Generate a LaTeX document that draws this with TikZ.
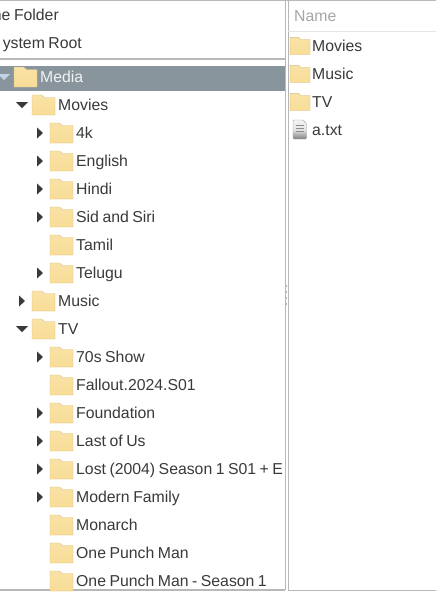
\documentclass[tikz,border=0pt]{standalone}
\usepackage{fontspec}
\setmainfont[WordSpace=0.8]{Liberation Sans}
\definecolor{rowtext}{HTML}{3A3A3A}
\definecolor{panelline}{HTML}{B8B8B8}
\definecolor{rowhigh}{HTML}{89959D}
\definecolor{folderfill}{HTML}{F8DD96}
\definecolor{folderedge}{HTML}{D9BF85}
\definecolor{arrowpale}{HTML}{BFD3E6}
\tikzset{%
    rowlbl/.style={anchor=west,inner sep=0pt,yshift=-1pt,font=\fontsize{15.8}{16}\selectfont,text=rowtext,text height=11.5pt,text depth=3pt},
    pics/folder/.style={code={
        \draw[folderedge,top color=folderfill!85!white,bottom color=folderfill]
            (-11.5,-10) -- (-2,-10) -- (1,-7.5) -- (11.5,-7.5) -- (11.5,10) -- (-11.5,10) -- cycle;
    }},
    pics/shut/.style={code={
        \fill[#1] (-3,-5.5) -- (3,0) -- (-3,5.5) -- cycle;
    }},
    pics/open/.style={code={
        \fill[#1] (-6,-3) -- (6,-3) -- (0,3) -- cycle;
    }}
}
\begin{document}
\begin{tikzpicture}[x=1pt,y=-1pt]
            \useasboundingbox (0,0) rectangle (436,592);
            \fill[white] (0,0) rectangle (436,592);

            % draw panels, highlight
            \fill[rowhigh] (0,65.5) rectangle (285,91);
            \draw[panelline,line width=1.5pt] (0,0.5) -- (436,0.5);
            \draw[panelline,line width=1.5pt] (0,59) -- (285,59);
            \draw[panelline,line width=1.5pt] (285.5,0) -- (285.5,590);
            \draw[panelline,line width=1pt] (288,0) -- (288,590);
            \draw[panelline,line width=1.5pt] (0,590) -- (285,590);
            \draw[panelline,line width=1pt] (288,590) -- (436,590);
            \draw[black!10] (288,31.5) -- (436,31.5);

            % grip between the panels
            \fill[black!30] (286.2,285) rectangle (287.3,287);
            \fill[black!30] (286.2,291) rectangle (287.3,293);
            \fill[black!30] (286.2,297) rectangle (287.3,299);
            \fill[black!30] (286.2,303) rectangle (287.3,305);

            % top entries
            \node[rowlbl,anchor=east] (home) at (59,15){ne Folder};
            \node[rowlbl,anchor=east] (root) at (82,43){ystem Root};

            % folders of the tree
            \pic at (25.5,77) {folder};
            \pic at (43.5,105) {folder};
            \pic at (61.5,133) {folder};
            \pic at (61.5,161) {folder};
            \pic at (61.5,189) {folder};
            \pic at (61.5,217) {folder};
            \pic at (61.5,245) {folder};
            \pic at (61.5,273) {folder};
            \pic at (43.5,301) {folder};
            \pic at (43.5,329) {folder};
            \pic at (61.5,357) {folder};
            \pic at (61.5,385) {folder};
            \pic at (61.5,413) {folder};
            \pic at (61.5,441) {folder};
            \pic at (61.5,469) {folder};
            \pic at (61.5,497) {folder};
            \pic at (61.5,525) {folder};
            \pic at (61.5,553) {folder};
            \pic at (61.5,581) {folder};

            % arrows of the tree
            \pic at (4,77) {open=arrowpale};
            \pic at (22,105) {open=rowtext};
            \pic at (40,133) {shut=rowtext};
            \pic at (40,161) {shut=rowtext};
            \pic at (40,189) {shut=rowtext};
            \pic at (40,217) {shut=rowtext};
            \pic at (40,273) {shut=rowtext};
            \pic at (22,301) {shut=rowtext};
            \pic at (22,329) {open=rowtext};
            \pic at (40,357) {shut=rowtext};
            \pic at (40,413) {shut=rowtext};
            \pic at (40,441) {shut=rowtext};
            \pic at (40,469) {shut=rowtext};
            \pic at (40,497) {shut=rowtext};

            % labels of the tree
            \node[rowlbl,text=white!88!rowhigh] (media) at (40,77){Media};
            \node[rowlbl] (movies) at (58,105){Movies};
            \node[rowlbl] (fourk) at (76,133){4k};
            \node[rowlbl] (english) at (76,161){English};
            \node[rowlbl] (hindi) at (76,189){Hindi};
            \node[rowlbl] (sid) at (76,217){Sid and Siri};
            \node[rowlbl] (tamil) at (76,245){Tamil};
            \node[rowlbl] (telugu) at (76,273){Telugu};
            \node[rowlbl] (music) at (58,301){Music};
            \node[rowlbl] (tv) at (58,329){TV};
            \node[rowlbl] (seventies) at (76,357){70s Show};
            \node[rowlbl] (fallout) at (76,385){Fallout.2024.S01};
            \node[rowlbl] (foundation) at (76,413){Foundation};
            \node[rowlbl] (last) at (76,441){Last of Us};
            \node[rowlbl] (lost) at (76,469){Lost (2004) Season 1 S01 + E};
            \node[rowlbl] (modern) at (76,497){Modern Family};
            \node[rowlbl] (monarch) at (76,525){Monarch};
            \node[rowlbl] (punch) at (76,553){One Punch Man};
            \node[rowlbl] (punchs) at (76,581){One Punch Man - Season 1};

            % right panel
            \node[rowlbl,text=black!35] (name) at (294,16){Name};
            \pic[scale=0.87] at (300,46) {folder};
            \pic[scale=0.87] at (300,74) {folder};
            \pic[scale=0.87] at (300,102) {folder};
            \node[rowlbl] (rmovies) at (312,46){Movies};
            \node[rowlbl] (rmusic) at (312,74){Music};
            \node[rowlbl] (rtv) at (312,102){TV};
            \node[rowlbl] (atxt) at (312,130){a.txt};

            % file icon
            \draw[black!35,rounded corners=1pt,top color=black!5,bottom color=black!50,middle color=black!10] (293,120) -- (303,120) -- (306.5,123.5) -- (306.5,139) -- (293,139) -- cycle;
            \draw[black!45] (295.5,125.5) -- (304,125.5);
            \draw[black!45] (295.5,128.5) -- (304,128.5);
            \draw[black!45] (295.5,131.5) -- (304,131.5);
        \end{tikzpicture}
\end{document}
